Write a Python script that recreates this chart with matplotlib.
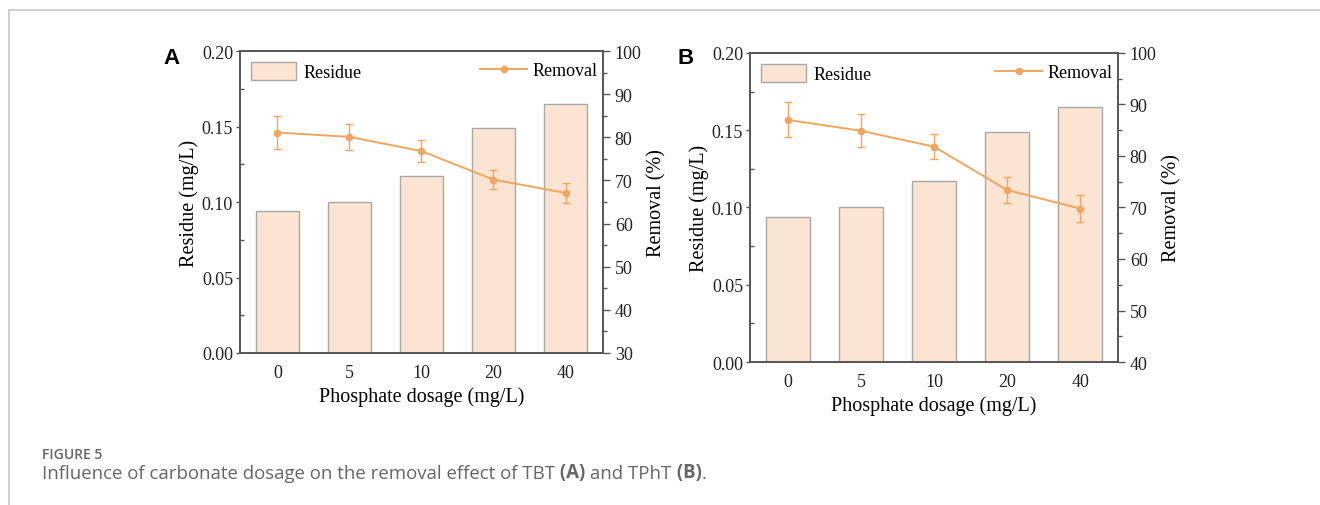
import numpy as np
import matplotlib.pyplot as plt
from matplotlib.lines import Line2D
from matplotlib.ticker import MultipleLocator

# data
dosage = ['0', '5', '10', '20', '40']

residue_a = [0.094, 0.100, 0.117, 0.149, 0.165]
removal_a = [81.1, 80.1, 76.8, 70.2, 67.1]
err_a = [3.9, 3.0, 2.5, 2.3, 2.4]

residue_b = [0.094, 0.100, 0.117, 0.149, 0.165]
removal_b = [87.0, 84.9, 81.8, 73.4, 69.8]
err_b = [3.4, 3.2, 2.4, 2.6, 2.7]

BAR_FACE = '#fce4d2'
BAR_EDGE = '#a8a8a8'
LINE_COL = '#f0a660'
AX_COL = '#555555'
TICK_FS = 13
LABEL_FS = 14.5

plt.rcParams['font.family'] = ['Liberation Serif', 'DejaVu Serif']

fig = plt.figure(figsize=(13.2, 5.06), dpi=100)

# page frame + caption layer
bg = fig.add_axes([0, 0, 1, 1], zorder=-5)
bg.set_xlim(0, 1320)
bg.set_ylim(506, 0)
bg.axis('off')
bg.plot([9, 9], [11, 506], color='#c8c8c8', lw=1.2)
bg.plot([9, 1320], [11, 11], color='#c8c8c8', lw=1.2)

cap_font = ['Open Sans', 'DejaVu Sans']
bg.text(42, 459, 'FIGURE 5', family=cap_font, fontsize=10, color='#666666',
        fontweight='semibold', va='baseline')
t = bg.text(42, 479, 'Influence of carbonate dosage on the removal effect of TBT',
            family=cap_font, fontsize=13.4, color='#666666', va='baseline')
pieces = [(' (A)', 'bold'), (' and TPhT', 'normal'), (' (B)', 'bold'), ('.', 'normal')]
prev = t
for s, w in pieces:
    prev = bg.annotate(s, xy=(1, 0), xycoords=prev, va='bottom', ha='left',
                       family=cap_font, fontsize=13.4, color='#666666', fontweight=w)


def panel(rect, residue, removal, err, rlim, label, lab_xy):
    ax = fig.add_axes(rect)
    x = np.arange(len(dosage))
    bars = ax.bar(x, residue, width=0.6, color=BAR_FACE, edgecolor=BAR_EDGE,
                  linewidth=1.0, label='Residue', zorder=2)
    ax.set_xlim(-0.52, 4.52)
    ax.set_ylim(0, 0.2)
    ax.set_xticks(x)
    ax.set_xticklabels(dosage)
    ax.yaxis.set_minor_locator(MultipleLocator(0.025))
    ax.set_yticks(np.arange(0, 0.201, 0.05))
    ax.set_yticklabels(['%.2f' % v for v in np.arange(0, 0.201, 0.05)])
    ax.tick_params(axis='x', length=0, pad=8, labelsize=TICK_FS, labelcolor='#222222')
    ax.tick_params(axis='y', which='major', direction='out', length=3, width=1,
                   pad=2, color=AX_COL, labelsize=TICK_FS, labelcolor='#222222')
    ax.tick_params(axis='y', which='minor', direction='in', length=3, width=1,
                   color=AX_COL)
    for sp in ax.spines.values():
        sp.set_color(AX_COL)
        sp.set_linewidth(1.2)
    ax.set_xlabel('Phosphate dosage (mg/L)', fontsize=LABEL_FS, labelpad=4)
    ax.set_ylabel('Residue (mg/L)', fontsize=LABEL_FS, labelpad=2)

    ax2 = ax.twinx()
    ax2.errorbar(x, removal, yerr=err, color=LINE_COL, marker='o', markersize=4.5,
                 lw=1.4, capsize=3, elinewidth=1.0, capthick=1.0, zorder=3)
    ax2.set_ylim(*rlim)
    ax2.yaxis.set_major_locator(MultipleLocator(10))
    ax2.yaxis.set_minor_locator(MultipleLocator(5))
    ax2.tick_params(axis='y', which='major', direction='out', length=5, width=1,
                    color=AX_COL, labelsize=TICK_FS, labelcolor='#222222')
    ax2.tick_params(axis='y', which='minor', direction='out', length=3, width=1,
                    color=AX_COL)
    for sp in ax2.spines.values():
        sp.set_color(AX_COL)
        sp.set_linewidth(1.2)
    ax2.set_ylabel('Removal (%)', fontsize=LABEL_FS, labelpad=4)

    ax.legend(handles=[bars], loc='upper left', frameon=False, fontsize=TICK_FS,
              handlelength=2.5, handleheight=1.2, borderaxespad=0.2,
              handletextpad=0.4, bbox_to_anchor=(0.0, 1.0))
    rem = Line2D([], [], color=LINE_COL, marker='o', markersize=4.5, lw=1.4)
    ax2.legend(handles=[rem], labels=['Removal'], loc='upper right', frameon=False,
               fontsize=TICK_FS, handlelength=2.6, borderaxespad=0.2,
               handletextpad=0.3, bbox_to_anchor=(1.015, 1.0))

    fig.text(lab_xy[0], lab_xy[1], label, family=['Liberation Sans', 'DejaVu Sans'],
             fontsize=16, fontweight='bold', ha='center', va='center')
    return ax, ax2


panel([0.1818, 0.3004, 0.275, 0.5968], residue_a, removal_a, err_a, (30, 100),
      'A', (172 / 1320, 1 - 58 / 506))
panel([0.5682, 0.2826, 0.2788, 0.6107], residue_b, removal_b, err_b, (40, 100),
      'B', (686 / 1320, 1 - 58 / 506))

fig.savefig('out.png', dpi=100)
